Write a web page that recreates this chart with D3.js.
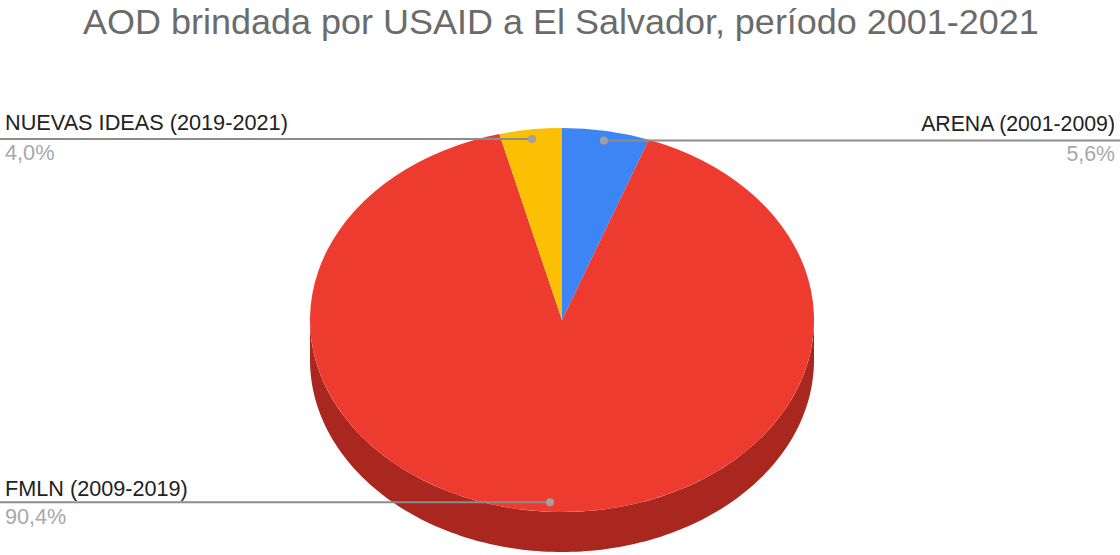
<!DOCTYPE html>
<html><head><meta charset="utf-8">
<script src="https://cdn.jsdelivr.net/npm/d3@7/dist/d3.min.js"></script>
<style>body{margin:0;background:#fff}svg{display:block}text{font-family:"Liberation Sans",Arial,sans-serif}</style>
</head><body>
<svg id="c" width="1120" height="555"></svg>
<script>
const categories = ["ARENA (2001-2009)", "FMLN (2009-2019)", "NUEVAS IDEAS (2019-2021)"];
const values = [5.6, 90.4, 4.0];
const valueLabels = ["5,6%", "90,4%", "4,0%"];
const colors = ["#3d85f4", "#ee3b30", "#fbbf04"];
const sideColors = ["#2b5dab", "#a9271f", "#b08603"];
const title = "AOD brindada por USAID a El Salvador, período 2001-2021";

const svg = d3.select("#c");
const cx = 562, cy = 320, rx = 252, ry = 192, depth = 40;

function fit(sel, target, base) {
  sel.attr("font-size", base);
  const w = sel.node().getComputedTextLength();
  sel.attr("font-size", base * target / w);
}

const t = svg.append("text").attr("x", 561).attr("y", 33.5).attr("text-anchor", "middle")
  .attr("fill", "#6b6b6b").text(title);
fit(t, 956, 36);

const pie = d3.pie().sort(null).value(d => d)(values);
const pt = (a, f = 1, dy = 0) => [cx + f * rx * Math.sin(a), cy - f * ry * Math.cos(a) + dy];

// side walls
const g = svg.append("g");
pie.forEach((d, i) => {
  const s = Math.max(d.startAngle, Math.PI / 2), e = Math.min(d.endAngle, 3 * Math.PI / 2);
  if (e <= s) return;
  const p = d3.path();
  const a = pt(s);
  p.moveTo(a[0], a[1]);
  const N = 160;
  for (let k = 1; k <= N; k++) { const q = pt(s + (e - s) * k / N); p.lineTo(q[0], q[1]); }
  for (let k = N; k >= 0; k--) { const q = pt(s + (e - s) * k / N, 1, depth); p.lineTo(q[0], q[1]); }
  p.closePath();
  g.append("path").attr("d", p.toString()).attr("fill", sideColors[i]);
});
// top faces
pie.forEach((d, i) => {
  const a = pt(d.startAngle), b = pt(d.endAngle);
  const large = (d.endAngle - d.startAngle) > Math.PI ? 1 : 0;
  g.append("path")
    .attr("d", `M${cx},${cy}L${a[0]},${a[1]}A${rx},${ry} 0 ${large} 1 ${b[0]},${b[1]}Z`)
    .attr("fill", colors[i]);
});

// labels
const labelPos = [
  {side: "right", ty: 131, py: 161, w: 194},
  {side: "left", ty: 495.5, py: 524, w: 183},
  {side: "left", ty: 130, py: 160, w: 283}
];
pie.forEach((d, i) => {
  const mid = (d.startAngle + d.endAngle) / 2;
  const dot = pt(mid, 0.95);
  const L = labelPos[i];
  const x0 = L.side === "left" ? 0 : 1120;
  svg.append("line").attr("x1", x0).attr("x2", dot[0]).attr("y1", dot[1]).attr("y2", dot[1])
    .attr("stroke", "#8c8c8c").attr("stroke-width", 2);
  svg.append("circle").attr("cx", dot[0]).attr("cy", dot[1]).attr("r", 4).attr("fill", "#a0a0a0");
  const tx = L.side === "left" ? 5 : 1115;
  const anchor = L.side === "left" ? "start" : "end";
  const lt = svg.append("text").attr("x", tx).attr("y", L.ty).attr("text-anchor", anchor)
    .attr("fill", "#222").text(categories[i]);
  fit(lt, L.w, 22);
  svg.append("text").attr("x", tx).attr("y", L.py).attr("text-anchor", anchor)
    .attr("font-size", lt.attr("font-size")).attr("fill", "#a8a8a8").text(valueLabels[i]);
});
</script>
</body></html>
